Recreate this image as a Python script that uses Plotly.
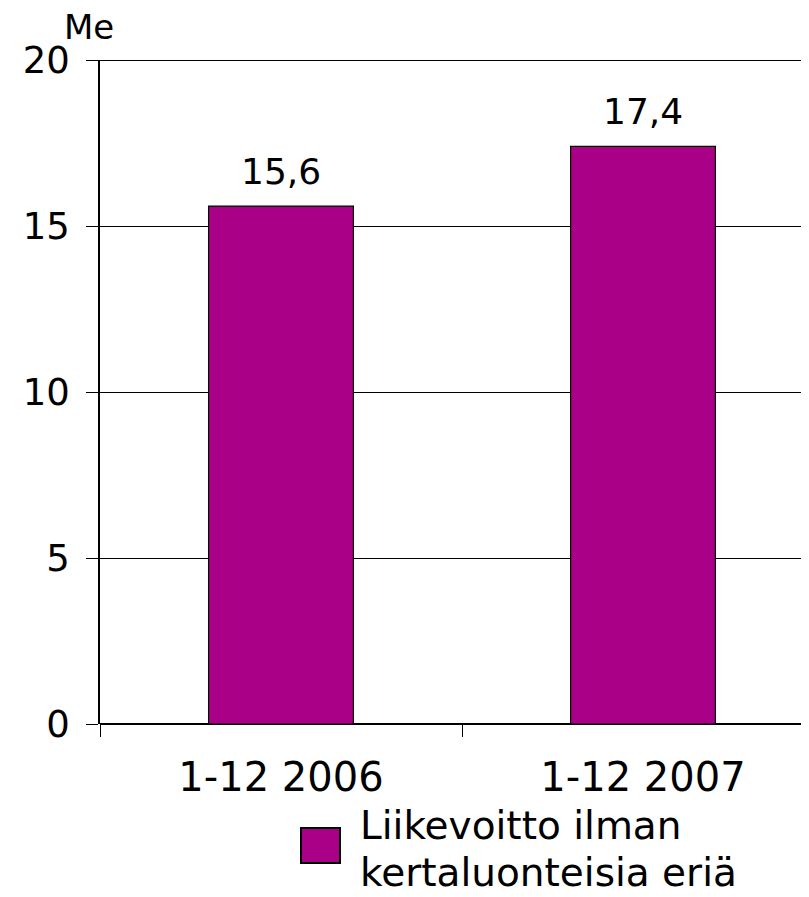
import plotly.graph_objects as go

categories = ["1-12 2006", "1-12 2007"]
values = [15.6, 17.4]
value_labels = ["15,6", "17,4"]
series_lines = ["Liikevoitto ilman", "kertaluonteisia eriä"]
y_ticks = [0, 5, 10, 15, 20]
unit_label = "Me"

bar_color = "#AA0088"
font_main = "DejaVu Sans, Verdana, sans-serif"

# page geometry (body has an 8px margin)
PL, PT, PW, PH = 100, 60, 717, 664

fig = go.Figure()
fig.add_trace(go.Bar(
    x=categories, y=values, width=0.4,
    marker=dict(color=bar_color, line=dict(color="black", width=1.2)),
    showlegend=False,
))

for c, v, t in zip(categories, values, value_labels):
    fig.add_annotation(x=c, y=v, text=t, xref="x", yref="y", showarrow=False,
                       xanchor="center", yanchor="bottom", yshift=12,
                       font=dict(family=font_main, size=36, color="black"))

fig.update_layout(
    width=809, height=897,
    margin=dict(l=PL - 8, r=0, t=PT - 8, b=897 - (PT - 8) - PH),
    paper_bgcolor="white", plot_bgcolor="white",
    font=dict(family=font_main, color="black"),
)
fig.update_xaxes(
    type="category", range=[-0.5, -0.5 + PW / 362],
    tickson="boundaries", ticks="outside", ticklen=12, tickwidth=1.2, tickcolor="black",
    showgrid=False, showline=False, zeroline=False,
    tickfont=dict(family=font_main, size=40, color="black"),
    ticklabelstandoff=26,
)
fig.update_yaxes(
    range=[0, 20], tickvals=y_ticks, ticktext=[str(v) for v in y_ticks],
    ticks="outside", ticklen=12, tickwidth=1.2, tickcolor="black",
    showgrid=True, gridcolor="black", gridwidth=1.1,
    showline=True, linecolor="black", linewidth=1.5,
    zeroline=True, zerolinecolor="black", zerolinewidth=2.2,
    tickfont=dict(family=font_main, size=37, color="black"),
    ticklabelstandoff=9,
)

# thicker top line at 20
fig.add_shape(type="line", xref="paper", yref="y", x0=0, x1=1, y0=20, y1=20,
              line=dict(color="black", width=2))

# unit label
fig.add_annotation(text=unit_label, xref="paper", yref="paper",
                   x=(89 - PL) / PW, y=1.0, yshift=33, xanchor="center", yanchor="middle",
                   showarrow=False, font=dict(family=font_main, size=34, color="black"))

# manual legend
fig.add_shape(type="rect", xref="paper", yref="paper",
              x0=(301 - PL) / PW, x1=(340 - PL) / PW,
              y0=(PT + PH - 863) / PH, y1=(PT + PH - 828) / PH,
              fillcolor=bar_color, line=dict(color="black", width=2))
for i, line in enumerate(series_lines):
    fig.add_annotation(text=line, xref="paper", yref="paper",
                       x=(358 - PL) / PW, y=(PT + PH - (826 + 47 * i)) / PH,
                       xanchor="left", yanchor="middle", align="left", showarrow=False,
                       font=dict(family=font_main, size=39, color="black"))

fig.write_html("out.html")
